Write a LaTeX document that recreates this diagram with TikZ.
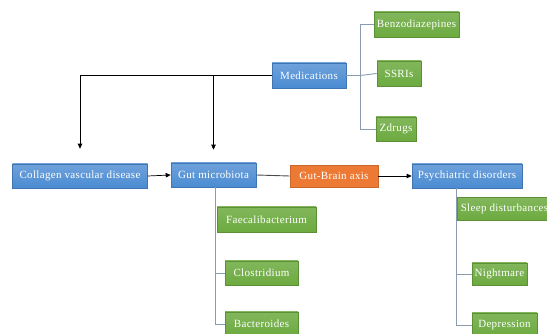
\documentclass[tikz,border=0pt]{standalone}
\usepackage{fontspec}
\setmainfont{Liberation Serif}[LetterSpace=3]
\usetikzlibrary{arrows.meta,positioning}
\definecolor{blu}{HTML}{4A8BD2}
\definecolor{grn}{HTML}{6CAA3F}
\definecolor{org}{HTML}{EC7A34}
\definecolor{ln}{HTML}{8A9BB0}
\definecolor{dk}{HTML}{3E5F8A}

\begin{document}
\begin{tikzpicture}[x=1pt,y=-1pt,
   bx/.style={draw,line width=0.6pt,minimum height=24pt,inner sep=2pt,
              font=\fontsize{11}{12}\selectfont,text=white},
   bb/.style={bx,draw=blu!85!black,top color=blu!80!white,bottom color=blu},
   gb/.style={bx,draw=grn!85!black,top color=grn!85!white,bottom color=grn},
   ob/.style={bx,draw=org!85!black,fill=org},
   tr/.style={draw=ln,line width=0.9pt},
   ar/.style={line width=0.7pt,-{Triangle[length=5pt,width=4.5pt]}}]
  \path[use as bounding box,clip] (0,0) rectangle (547,334);
  % main row
  \node[bb,minimum width=135pt] (cvd) at (80,176) {Collagen vascular disease};
  \node[bb,minimum width=85pt] (gut) at (213.5,175) {Gut microbiota};
  \node[ob,minimum width=88pt,minimum height=22pt] (gba) at (334,176) {Gut-Brain axis};
  \node[bb,minimum width=110pt] (psy) at (467,176) {Psychiatric disorders};
  % medications
  \node[bb,minimum width=74pt,minimum height=25pt] (med) at (309,75.5) {Medications};
  \node[gb,minimum width=85pt,minimum height=25pt] (bzd) at (416.5,24.5) {Benzodiazepines};
  \node[gb,minimum width=44pt,minimum height=25pt] (ssri) at (399,73.5) {SSRIs};
  \node[gb,minimum width=40pt] (zd) at (396,129) {Zdrugs};
  % bacteria
  \node[gb,minimum width=99pt,minimum height=25pt] (fae) at (266.5,219.5) {Faecalibacterium};
  \node[gb,minimum width=73pt] (clo) at (261.5,273) {Clostridium};
  \node[gb,minimum width=73pt] (bac) at (261.5,324) {Bacteroides};
  % disorders
  \node[gb,minimum width=95pt,minimum height=23pt] (slp) at (504.5,209) {Sleep disturbances};
  \node[gb,minimum width=55pt,minimum height=22pt] (ngt) at (499.5,274) {Nightmare};
  \node[gb,minimum width=65pt] (dep) at (504.5,325) {Depression};

  \coordinate (mb) at (360,75.5);
  \coordinate (gt) at (215,187);
  \coordinate (pt) at (456,188);
  \draw[tr] (med.east)--(mb);
  \draw[tr] (mb)|-(bzd.west);
  \draw[tr] (mb)--(ssri.west);
  \draw[tr] (mb)|-(zd.west);
  \draw[tr,draw=dk] (gt)--(gt|-fae.south);
  \draw[tr] (gt)|-(clo.west);
  \draw[tr] (gt)|-(bac.west);
  \draw[tr] (pt)|-(ngt.west);
  \draw[tr] (pt)|-(dep.west);

  \draw[ar,shorten >=13pt] (med.west)-|(gut.north);
  \draw[ar,shorten >=15pt] (213,75.5)-|(cvd.north);
  \draw[ar] (cvd.east)--(gut.west);
  \draw[line width=0.9pt,draw=black!70] (gut.east)--(gba.west);
  \draw[ar] (gba.east)--(psy.west);
\end{tikzpicture}
\end{document}
